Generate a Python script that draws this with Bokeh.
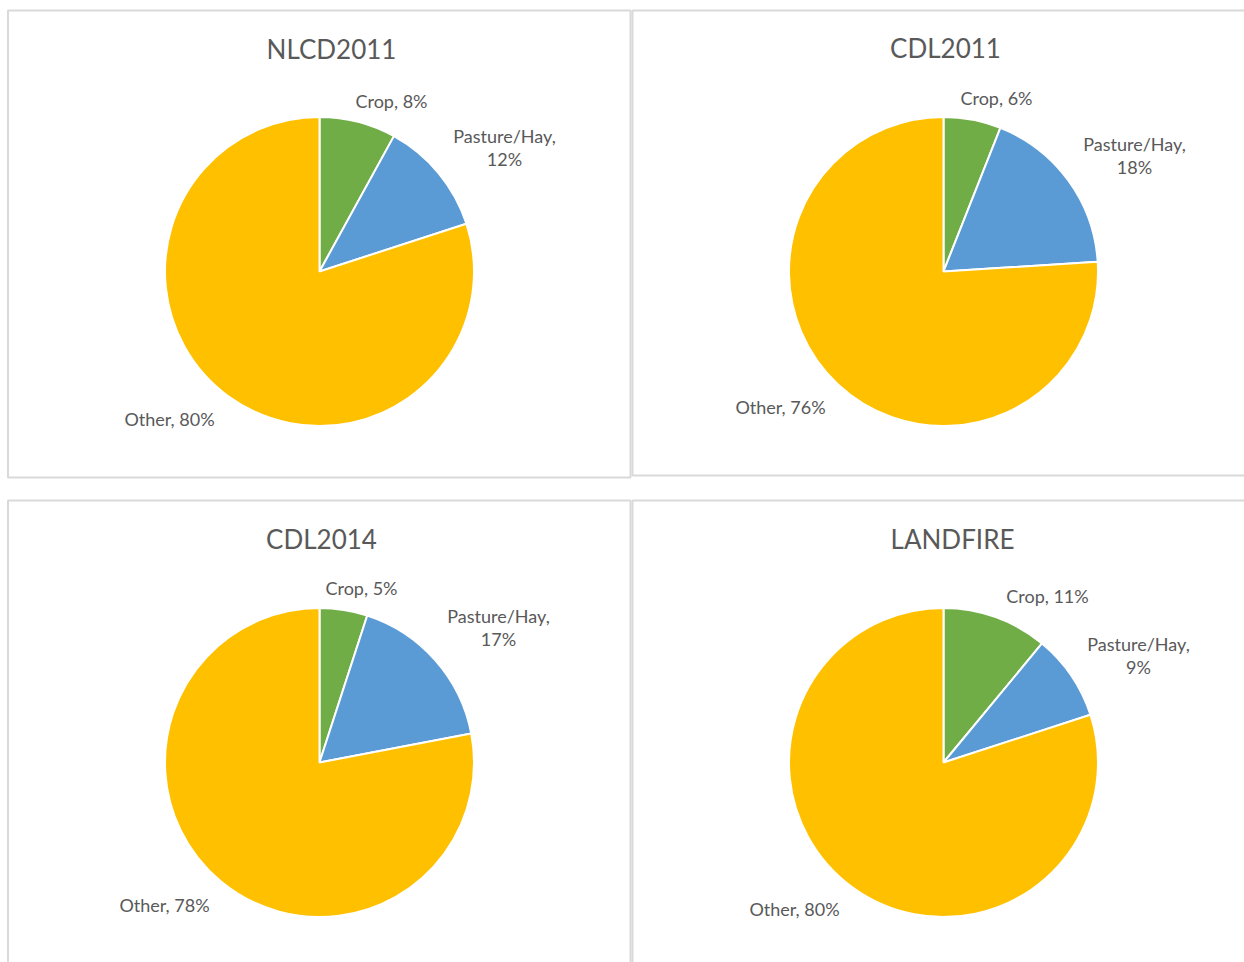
import math
from bokeh.plotting import figure
from bokeh.models import Range1d, ColumnDataSource
from bokeh.core.properties import value
from bokeh.embed import file_html
from bokeh.resources import INLINE

# ---------------- data ----------------
panels = ["NLCD2011", "CDL2011", "CDL2014", "LANDFIRE"]
categories = ["Crop", "Pasture/Hay", "Other"]
crop = [8, 6, 5, 11]
pasture = [12, 18, 17, 9]
other = [80, 76, 78, 80]

# ---------------- styles / layout ----------------
colors = ["#70AD47", "#5B9BD5", "#FFC000"]
text_color = "#595959"
border_color = "#D9D9D9"
FONT = "Lato"

W, H = 1244, 962
def X(px):
    return px
def Y(py):
    return H - py

centers = [(319, 271), (943, 271), (319, 762), (943, 762)]
radius = 154.5
title_pos = [(331, 48), (945, 47), (321, 538), (952, 538)]
# label offsets relative to pie centres (page px), per category
label_off = [
    [(72, -171), (185, -124), (-150, 147)],
    [(53, -174), (191, -116), (-163, 135)],
    [(42, -175), (179, -135), (-155, 142)],
    [(104, -167), (195, -107), (-149, 146)],
]
frames = [(7.5, 10, 630, 477), (632, 10, 1300, 475), (7.5, 500, 630, 1000), (632, 500, 1300, 1000)]

p = figure(width=W, height=H, output_backend="svg", toolbar_location=None,
           x_range=Range1d(0, W), y_range=Range1d(0, H), min_border=0)
p.axis.visible = False
p.grid.visible = False
p.outline_line_color = None
p.background_fill_color = "white"
p.border_fill_color = "white"

# panel frames
p.quad(left=[X(f[0]) for f in frames], right=[X(f[2]) for f in frames],
       top=[Y(f[1]) for f in frames], bottom=[Y(f[3]) for f in frames],
       fill_color=None, line_color=border_color, line_width=2)

series = [crop, pasture, other]
for i, name in enumerate(panels):
    vals = [s[i] for s in series]
    total = float(sum(vals))
    cx, cy = centers[i]
    starts, ends = [], []
    cum = 0.0
    for v in vals:
        a0 = math.pi / 2 - 2 * math.pi * cum / total
        cum += v
        a1 = math.pi / 2 - 2 * math.pi * cum / total
        starts.append(a1)
        ends.append(a0)
    src = ColumnDataSource(dict(start=starts, end=ends, color=colors))
    p.wedge(x=X(cx), y=Y(cy), radius=radius, start_angle="start", end_angle="end",
            fill_color="color", line_color="white", line_width=2, source=src)

    # title
    p.text(x=[X(title_pos[i][0])], y=[Y(title_pos[i][1])], text=[name],
           text_align="center", text_baseline="middle", text_color=text_color,
           text_font=value(FONT), text_font_size=value("26px"))

    # labels
    lx, ly, lt = [], [], []
    for k, cat in enumerate(categories):
        dx, dy = label_off[i][k]
        lx.append(X(cx + dx))
        ly.append(Y(cy + dy))
        if cat == "Pasture/Hay":
            lt.append(f"{cat},\n{vals[k]}%")
        else:
            lt.append(f"{cat}, {vals[k]}%")
    p.text(x=lx, y=ly, text=lt, text_align="center", text_baseline="middle",
           text_color=text_color, text_font=value(FONT),
           text_font_size=value("18px"), text_line_height=1.05)

open("out.html", "w").write(file_html(p, INLINE))
